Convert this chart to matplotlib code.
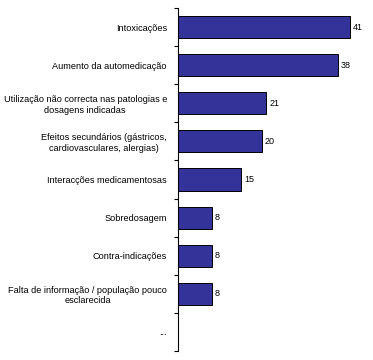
import matplotlib
matplotlib.use("Agg")
import matplotlib.pyplot as plt

categories = [
    "Intoxicações",
    "Aumento da automedicação",
    "Utilização não correcta nas patologias e\ndosagens indicadas",
    "Efeitos secundários (gástricos,\ncardiovasculares, alergias)",
    "Interacções medicamentosas",
    "Sobredosagem",
    "Contra-indicações",
    "Falta de informação / população pouco\nesclarecida",
    "...",
]
values = [41, 38, 21, 20, 15, 8, 8, 8, None]

plt.rcParams['font.family'] = ['Liberation Sans', 'DejaVu Sans']

fig = plt.figure(figsize=(3.73, 3.60), dpi=100)
W, H = 373, 360
ax = fig.add_axes([178 / W, 1 - 351 / H, 189 / W, 343 / H])

n = len(categories)
ypos = list(range(n))
for y, v in zip(ypos, values):
    if v is None:
        continue
    ax.barh(y, v, height=0.58, color="#333399", edgecolor="black", linewidth=0.7)
    ax.text(v + 0.7, y, str(v), va="center", ha="left", fontsize=6.5)

ax.set_xlim(0, 45)
ax.set_ylim(n - 0.5, -0.5)
ax.set_yticks(ypos)
ax.set_yticklabels(categories, fontsize=6.6, ha="right")
ax.set_yticks([i - 0.5 for i in range(n + 1)], minor=True)
ax.tick_params(axis="y", which="major", length=0, pad=8)
ax.tick_params(axis="y", which="minor", length=3, width=0.8, direction="out")
for lbl in ax.get_yticklabels():
    lbl.set_multialignment("center")
ax.set_xticks([])
for s in ["top", "right", "bottom"]:
    ax.spines[s].set_visible(False)
ax.spines["left"].set_linewidth(0.8)

fig.savefig("out.png", dpi=100)
